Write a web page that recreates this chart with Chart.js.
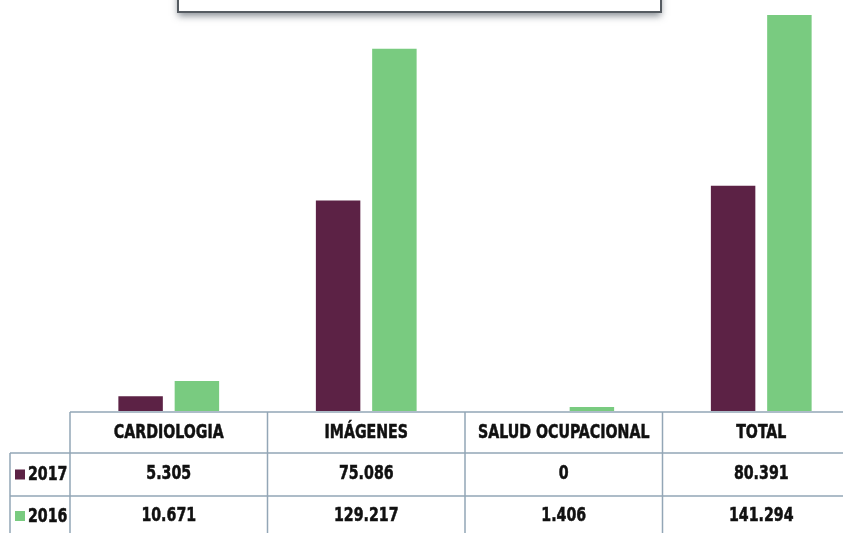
<!DOCTYPE html>
<html lang="es">
<head>
    <meta charset="UTF-8">
    <title>Cardiologia, Imágenes, Salud Ocupacional - 2017 vs 2016</title>
    <script src="https://cdn.jsdelivr.net/npm/chart.js"></script>
    <style>
        html, body {
            margin: 0;
            padding: 0;
            overflow: hidden;
            background: #ffffff;
        }
        #wrap {
            width: 860px;
            height: 533px;
        }
    </style>
</head>
<body>
    <div id="wrap">
        <canvas id="chart" width="860" height="533"></canvas>
    </div>

    <script>
        // Data
        const categories = ['CARDIOLOGIA', 'IMÁGENES', 'SALUD OCUPACIONAL', 'TOTAL'];
        const seriesNames = ['2017', '2016'];
        const values2017 = [5305, 75086, 0, 80391];
        const values2016 = [10671, 129217, 1406, 141294];

        const purple = '#5c2245';
        const green = '#79cb80';
        const lineColor = '#93a6b6';
        const tableFont = "bold 19px 'DejaVu Sans Condensed', 'Liberation Sans Narrow', sans-serif";
        const squeeze = 0.83; // the scan uses a narrow heavy face

        // 5305 -> "5.305"
        function fmt(v) {
            return String(v).replace(/\B(?=(\d{3})+(?!\d))/g, '.');
        }

        function narrowText(ctx, text, x, y) {
            ctx.save();
            ctx.translate(x, y);
            ctx.scale(squeeze, 1);
            ctx.fillText(text, 0, 0);
            ctx.lineWidth = 0.5;
            ctx.strokeStyle = ctx.fillStyle;
            ctx.strokeText(text, 0, 0);
            ctx.restore();
        }

        // Title box cut off at the top of the picture
        const titleBox = {
            id: 'titleBox',
            afterDraw(chart) {
                const ctx = chart.ctx;
                ctx.save();
                ctx.shadowColor = 'rgba(60,70,80,0.6)';
                ctx.shadowBlur = 7;
                ctx.shadowOffsetY = 4;
                ctx.fillStyle = '#ffffff';
                ctx.fillRect(178, -20, 483, 32);
                ctx.shadowColor = 'transparent';
                ctx.strokeStyle = '#555b61';
                ctx.lineWidth = 2;
                ctx.strokeRect(178, -20, 483, 32);
                ctx.restore();
            }
        };

        // Data table under the bars, columns follow the x scale
        const dataTable = {
            id: 'dataTable',
            afterDraw(chart) {
                const ctx = chart.ctx;
                const x = chart.scales.x;
                const area = chart.chartArea;
                const colW = (area.right - area.left) / categories.length;
                const top = area.bottom + 1;
                const rows = [top, 453, 496, 560];
                const labelLeft = 10;

                ctx.save();
                ctx.strokeStyle = lineColor;
                ctx.lineWidth = 1.5;

                // horizontal lines
                ctx.beginPath();
                ctx.moveTo(area.left, rows[0]);
                ctx.lineTo(area.right, rows[0]);
                ctx.moveTo(labelLeft, rows[1]);
                ctx.lineTo(area.right, rows[1]);
                ctx.moveTo(labelLeft, rows[2]);
                ctx.lineTo(area.right, rows[2]);
                ctx.stroke();

                // vertical lines
                ctx.beginPath();
                ctx.moveTo(labelLeft, rows[1]);
                ctx.lineTo(labelLeft, rows[3]);
                for (let i = 0; i <= categories.length; i++) {
                    const cx = area.left + i * colW;
                    ctx.moveTo(cx, rows[0]);
                    ctx.lineTo(cx, rows[3]);
                }
                ctx.stroke();

                ctx.fillStyle = '#111111';
                ctx.font = tableFont;
                ctx.textAlign = 'center';
                ctx.textBaseline = 'middle';

                const headerY = (rows[0] + rows[1]) / 2 + 1;
                const rowY = [(rows[1] + rows[2]) / 2, 516];
                const seriesVals = [values2017, values2016];
                const seriesCols = [purple, green];

                categories.forEach((c, i) => {
                    const cx = x.getPixelForValue(i);
                    narrowText(ctx, c, cx, headerY);
                    seriesVals.forEach((vals, s) => {
                        narrowText(ctx, fmt(vals[i]), cx, rowY[s]);
                    });
                });

                // row labels with legend keys
                seriesNames.forEach((name, s) => {
                    ctx.fillStyle = seriesCols[s];
                    ctx.fillRect(15, rowY[s] - 5, 10, 10);
                    ctx.fillStyle = '#111111';
                    ctx.textAlign = 'left';
                    narrowText(ctx, name, 28, rowY[s] + 1);
                });
                ctx.restore();
            }
        };

        new Chart(document.getElementById('chart'), {
            type: 'bar',
            data: {
                labels: categories,
                datasets: [
                    { label: seriesNames[0], data: values2017, backgroundColor: purple },
                    { label: seriesNames[1], data: values2016, backgroundColor: green }
                ]
            },
            options: {
                responsive: false,
                animation: false,
                layout: { padding: { left: 70, right: 0, top: 0, bottom: 122 } },
                datasets: {
                    bar: { categoryPercentage: 0.57, barPercentage: 0.79 }
                },
                scales: {
                    x: { display: false },
                    y: { display: false, min: 0, max: 146650 }
                },
                plugins: {
                    legend: { display: false },
                    tooltip: { enabled: false }
                }
            },
            plugins: [titleBox, dataTable]
        });
    </script>
</body>
</html>
